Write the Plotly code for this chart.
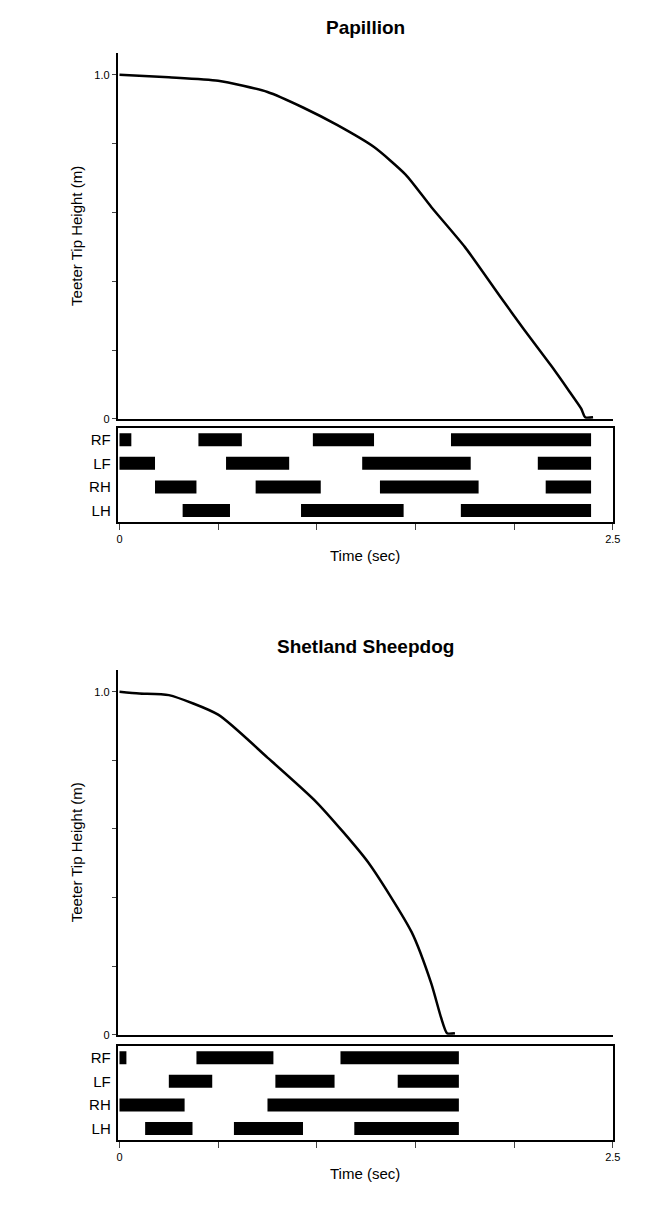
import plotly.graph_objects as go

legs = ["RF", "LF", "RH", "LH"]
pap_t = [0, 0.25, 0.5, 0.75, 0.93, 1.1, 1.29, 1.45, 1.58, 1.75, 1.93, 2.05, 2.19, 2.28, 2.34, 2.36, 2.40]
pap_h = [1.0, 0.993, 0.983, 0.95, 0.905, 0.855, 0.79, 0.71, 0.616, 0.50, 0.355, 0.26, 0.153, 0.08, 0.03, 0.005, 0.005]
she_t = [0, 0.1, 0.25, 0.5, 0.75, 1.0, 1.26, 1.48, 1.58, 1.63, 1.66, 1.70]
she_h = [1.0, 0.995, 0.99, 0.933, 0.808, 0.677, 0.503, 0.30, 0.15, 0.05, 0.005, 0.005]
pap_steps = {
    "RF": [(0, 0.06), (0.40, 0.62), (0.98, 1.29), (1.68, 2.39)],
    "LF": [(0, 0.18), (0.54, 0.86), (1.23, 1.78), (2.12, 2.39)],
    "RH": [(0.18, 0.39), (0.69, 1.02), (1.32, 1.82), (2.16, 2.39)],
    "LH": [(0.32, 0.56), (0.92, 1.44), (1.73, 2.39)],
}
she_steps = {
    "RF": [(0, 0.035), (0.39, 0.78), (1.12, 1.72)],
    "LF": [(0.25, 0.47), (0.79, 1.09), (1.41, 1.72)],
    "RH": [(0, 0.33), (0.75, 1.72)],
    "LH": [(0.13, 0.37), (0.58, 0.93), (1.19, 1.72)],
}
titles = ["Papillion", "Shetland Sheepdog"]
H = 1210
def py(px): return 1 - px / H

fig = go.Figure()
F = dict(family="Liberation Sans, Arial", color="black")
panels = [
    (titles[0], pap_t, pap_h, pap_steps, 45, 413, 422, 517, 20),
    (titles[1], she_t, she_h, she_steps, 665, 1032, 1043, 1138, 642),
]
xd = [110 / 670, 612 / 670]
for i, (title, t, h, steps, ct, cb, gt, gb, tt) in enumerate(panels):
    cx, cy, gx, gy = f"x{4*i+1}", f"y{4*i+1}", f"x{4*i+2}", f"y{4*i+2}"
    fig.add_trace(go.Scatter(x=t, y=h, mode="lines",
                             line=dict(color="black", width=2.5, shape="spline", smoothing=0.6),
                             xaxis=cx, yaxis=cy, showlegend=False))
    for leg in legs:
        for a, b in steps[leg]:
            fig.add_trace(go.Bar(x=[b - a], base=[a], y=[leg], orientation="h", width=0.55,
                                 marker=dict(color="black", line=dict(width=0)),
                                 xaxis=gx, yaxis=gy, showlegend=False))
    n1, n2 = 4 * i + 1, 4 * i + 2
    fig.layout[f"xaxis{n1}"] = dict(domain=xd, range=[-0.01, 2.5], anchor=cy, showline=True, linecolor="black",
                                    linewidth=1.5, showticklabels=False, ticks="", showgrid=False, zeroline=False)
    fig.layout[f"yaxis{n1}"] = dict(domain=[py(cb), py(ct)], range=[0, 1.064], anchor=cx, showline=True,
                                    linecolor="black", linewidth=1.5, tickvals=[0, 0.2, 0.4, 0.6, 0.8, 1.0],
                                    ticktext=["0", "", "", "", "", "1.0"], ticks="outside", ticklen=4,
                                    tickfont=dict(size=11, **F), showgrid=False, zeroline=False,
                                    title=dict(text="Teeter Tip Height (m)", font=dict(size=15, **F), standoff=8))
    fig.layout[f"xaxis{n2}"] = dict(domain=xd, range=[-0.01, 2.5], anchor=gy, showline=True, mirror=True,
                                    linecolor="black", linewidth=1.5, tickvals=[0, 0.5, 1, 1.5, 2, 2.5],
                                    ticktext=["0", "", "", "", "", "2.5"], ticks="outside", ticklen=6,
                                    tickfont=dict(size=11, **F), showgrid=False, zeroline=False,
                                    title=dict(text="Time (sec)", font=dict(size=15, **F), standoff=6))
    fig.layout[f"yaxis{n2}"] = dict(domain=[py(gb), py(gt)], anchor=gx, showline=True, mirror=True,
                                    linecolor="black", linewidth=1.5, categoryorder="array",
                                    categoryarray=legs[::-1], range=[-0.5, 3.5], ticks="",
                                    tickfont=dict(size=15, **F), showgrid=False, ticklabelstandoff=2)
    fig.add_annotation(text=f"<b>{title}</b>", x=0.54, y=py(tt), xref="paper", yref="paper",
                       showarrow=False, font=dict(size=19, **F), yanchor="middle")

fig.update_layout(width=670, height=1210, margin=dict(l=0, r=0, t=0, b=0), barmode="overlay",
                  plot_bgcolor="white", paper_bgcolor="white")
fig.write_html("out.html")
